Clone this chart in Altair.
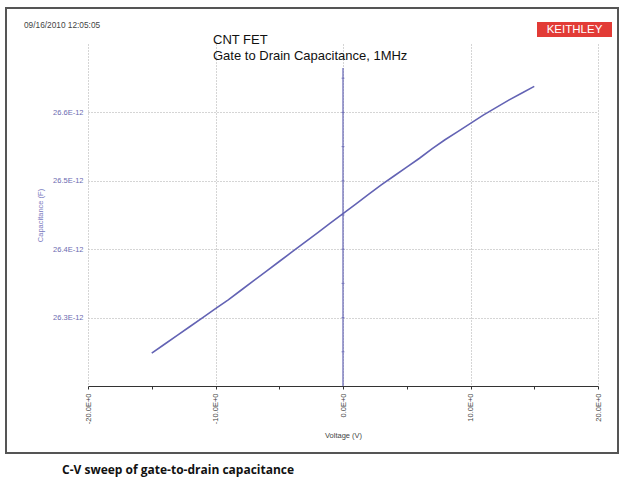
import altair as alt
import pandas as pd

# Data (voltage in V, capacitance in pF)
voltage = [-15, -14, -13, -12, -11, -10, -9, -8, -7, -6, -5, -4, -3, -2, -1,
           0, 1, 2, 3, 4, 5, 6, 7, 8, 9, 10, 11, 12, 13, 14, 15]
capacitance_pf = [26.248, 26.261, 26.274, 26.287, 26.300, 26.313, 26.326, 26.340,
                  26.354, 26.368, 26.382, 26.396, 26.410, 26.424, 26.438, 26.452,
                  26.466, 26.480, 26.494, 26.507, 26.520, 26.533, 26.547, 26.560,
                  26.572, 26.584, 26.596, 26.607, 26.618, 26.628, 26.638]

x_ticks = [-20, -15, -10, -5, 0, 5, 10, 15, 20]
y_ticks = [26.3, 26.4, 26.5, 26.6]
y_minor = [26.25, 26.3, 26.35, 26.4, 26.45, 26.5, 26.55, 26.6, 26.65]
zero_axis = {"v": [0], "c0": [26.2], "c1": [26.665]}

title_lines = ["CNT FET", "Gate to Drain Capacitance, 1MHz"]
timestamp = "09/16/2010 12:05:05"
logo_text = "KEITHLEY"
caption = "C-V sweep of gate-to-drain capacitance"

FONT = "Liberation Sans"
BLUE = "#6363b4"

df = pd.DataFrame({"v": voltage, "c": capacitance_pf})

xscale = alt.Scale(domain=[-20, 20], nice=False)
yscale = alt.Scale(domain=[26.2, 26.7], nice=False, zero=False)

x_axis = alt.Axis(
    values=x_ticks,
    labelExpr="datum.value % 10 === 0 ? (datum.value < 0 ? '-' : '') + format(abs(datum.value), '.1f') + 'E+0' : ''",
    labelAngle=270, labelFontSize=7.5, labelColor="#444", labelFont=FONT,
    labelPadding=4, tickSize=3, tickColor="#333", domainColor="#333",
    domainWidth=1, grid=True, gridDash=[1, 2], gridColor="#aaa",
    gridOpacity={"condition": {"test": "datum.value % 10 !== 0", "value": 0}, "value": 1},
    title="Voltage (V)", titleFontSize=7.5, titleFontWeight="normal",
    titleColor="#444", titleFont=FONT, titlePadding=8,
)
y_axis = alt.Axis(
    values=y_ticks,
    labelExpr="format(datum.value, '.1f') + 'E-12'",
    ticks=False, domain=False, grid=True, gridDash=[1, 2], gridColor="#aaa",
    labelColor="#6b6bb0", labelFontSize=7.5, labelFont=FONT, labelPadding=5,
    title="Capacitance (F)", titleColor="#7a7ac0", titleFontSize=7.5,
    titleFontWeight="normal", titleFont=FONT, titlePadding=8,
)

line = alt.Chart(df).mark_line(color=BLUE, strokeWidth=1.6).encode(
    x=alt.X("v:Q", scale=xscale, axis=x_axis),
    y=alt.Y("c:Q", scale=yscale, axis=y_axis),
)

zero_rule = alt.Chart(pd.DataFrame(zero_axis)).mark_rule(color=BLUE, strokeWidth=1.2).encode(
    x=alt.X("v:Q", scale=xscale),
    y=alt.Y("c0:Q", scale=yscale),
    y2="c1:Q",
)

minor = alt.Chart(pd.DataFrame({"v": [0] * len(y_minor), "c": y_minor})).mark_tick(
    color=BLUE, orient="horizontal", size=3, thickness=1
).encode(x=alt.X("v:Q", scale=xscale), y=alt.Y("c:Q", scale=yscale))

one = pd.DataFrame({"a": [0]})

frame = alt.Chart(one).mark_rect(fill=None, stroke="#555", strokeWidth=2).encode(
    x=alt.value(-82), x2=alt.value(530), y=alt.value(-36), y2=alt.value(409)
)

t1 = alt.Chart(one).mark_text(text=title_lines[0], align="left", baseline="alphabetic",
                              font=FONT, fontSize=13, color="#111").encode(
    x=alt.value(125), y=alt.value(0))
t2 = alt.Chart(one).mark_text(text=title_lines[1], align="left", baseline="alphabetic",
                              font=FONT, fontSize=13, color="#111").encode(
    x=alt.value(125), y=alt.value(16))
ts = alt.Chart(one).mark_text(text=timestamp, align="left", baseline="middle",
                              font=FONT, fontSize=8.3, color="#444").encode(
    x=alt.value(-64), y=alt.value(-18))
logo_bg = alt.Chart(one).mark_rect(fill="#e23b36").encode(
    x=alt.value(449), x2=alt.value(524), y=alt.value(-22), y2=alt.value(-7))
logo = alt.Chart(one).mark_text(text=logo_text, align="center", baseline="middle",
                                font=FONT, fontSize=11.5, color="white").encode(
    x=alt.value(486.5), y=alt.value(-14))
cap = alt.Chart(one).mark_text(text=caption, align="left", baseline="alphabetic",
                               font="Open Sans", fontSize=12, fontWeight="bold",
                               color="#111").encode(x=alt.value(-26), y=alt.value(430))

chart = alt.layer(frame, line, zero_rule, minor, t1, t2, ts, logo_bg, logo, cap).properties(
    width=510, height=342,
    autosize=alt.AutoSizeParams(type="none"),
    padding={"left": 88, "top": 44, "right": 26, "bottom": 94},
    background="white",
).configure_view(stroke=None)

chart.save("out.html", embed_options={"renderer": "svg", "actions": False})
